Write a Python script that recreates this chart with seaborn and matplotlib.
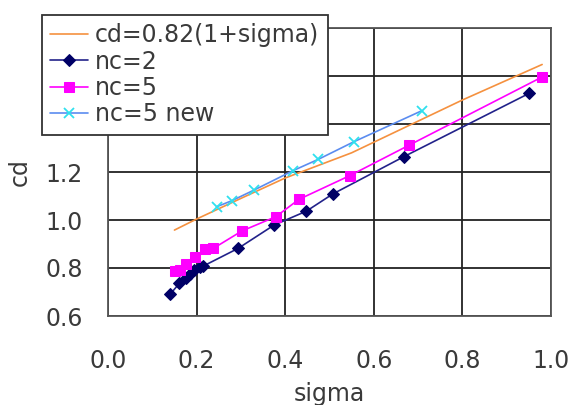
import pandas as pd
import matplotlib
matplotlib.use("Agg")
import matplotlib.pyplot as plt
import seaborn as sns

# values
fit_sigma = [0.15, 0.20, 0.30, 0.40, 0.55, 0.80, 0.98]
fit_cd = [0.958, 1.004, 1.090, 1.175, 1.280, 1.500, 1.648]

nc2_sigma = [0.141, 0.161, 0.176, 0.186, 0.195, 0.207, 0.215, 0.294, 0.375, 0.448, 0.507, 0.668, 0.951]
nc2_cd = [0.692, 0.736, 0.758, 0.775, 0.790, 0.803, 0.808, 0.882, 0.979, 1.037, 1.108, 1.264, 1.528]

nc5_sigma = [0.151, 0.163, 0.176, 0.196, 0.219, 0.238, 0.302, 0.379, 0.431, 0.546, 0.680, 0.979]
nc5_cd = [0.789, 0.790, 0.817, 0.847, 0.878, 0.882, 0.954, 1.014, 1.086, 1.185, 1.312, 1.595]

new_sigma = [0.245, 0.279, 0.330, 0.417, 0.475, 0.555, 0.708]
new_cd = [1.055, 1.080, 1.125, 1.205, 1.253, 1.326, 1.455]

x_ticks = [0.0, 0.2, 0.4, 0.6, 0.8, 1.0]
y_ticks = [0.6, 0.8, 1.0, 1.2, 1.4, 1.6, 1.8]

fit = pd.DataFrame({"sigma": fit_sigma, "cd": fit_cd})
nc2 = pd.DataFrame({"sigma": nc2_sigma, "cd": nc2_cd})
nc5 = pd.DataFrame({"sigma": nc5_sigma, "cd": nc5_cd})
new = pd.DataFrame({"sigma": new_sigma, "cd": new_cd})

sns.set_theme(style="white")
plt.rcParams["font.family"] = ["DejaVu Sans"]
FS = 17
TXT = "#3a3a3a"

fig = plt.figure(figsize=(5.75, 4.05), dpi=100)
ax = fig.add_axes([108 / 575, 1 - 316 / 405, 443 / 575, 288 / 405])

sns.lineplot(data=fit, x="sigma", y="cd", ax=ax, color="#F5913F", linewidth=1.2,
             sort=False, estimator=None, label="cd=0.82(1+sigma)")
sns.lineplot(data=nc2, x="sigma", y="cd", ax=ax, color="#22228A", linewidth=1.2,
             marker="D", markersize=6.3, markerfacecolor="#000066", markeredgecolor="#000066",
             sort=False, estimator=None, label="nc=2")
sns.lineplot(data=nc5, x="sigma", y="cd", ax=ax, color="#FF00FF", linewidth=1.2,
             marker="s", markersize=7.2, markerfacecolor="#FF00FF", markeredgecolor="#FF00FF",
             sort=False, estimator=None, label="nc=5")
sns.lineplot(data=new, x="sigma", y="cd", ax=ax, color="#5B8CF0", linewidth=1.2,
             marker="x", markersize=7, markeredgewidth=1.3, markeredgecolor="#2FE0EE",
             sort=False, estimator=None, label="nc=5 new")

ax.set_xlim(0, 1.0)
ax.set_ylim(0.6, 1.8)
ax.set_xticks(x_ticks)
ax.set_yticks(y_ticks)
ax.set_xticklabels([f"{v:.1f}" for v in x_ticks])
ax.set_yticklabels([f"{v:.1f}" for v in y_ticks])
ax.tick_params(axis="x", length=0, pad=24, labelsize=FS, labelcolor=TXT)
ax.tick_params(axis="y", length=0, pad=18, labelsize=FS, labelcolor=TXT)
ax.grid(True, color="#222222", linewidth=1.3)
for s in ax.spines.values():
    s.set_visible(True)
    s.set_color("#555555")
    s.set_linewidth(1.3)

ax.set_xlabel("sigma", fontsize=FS, color=TXT, labelpad=6)
ax.set_ylabel("cd", fontsize=FS, color=TXT, labelpad=10)

leg = ax.legend(loc="upper left", bbox_to_anchor=(42 / 575, 1 - 15 / 405),
                bbox_transform=fig.transFigure, borderaxespad=0, fontsize=FS,
                frameon=True, fancybox=False, framealpha=1, edgecolor="#333333",
                handlelength=1.6, handletextpad=0.3, labelspacing=0.1, borderpad=0.35)
leg.get_frame().set_linewidth(1.3)
for t in leg.get_texts():
    t.set_color(TXT)

fig.savefig("out.png", dpi=100)
plt.close(fig)
